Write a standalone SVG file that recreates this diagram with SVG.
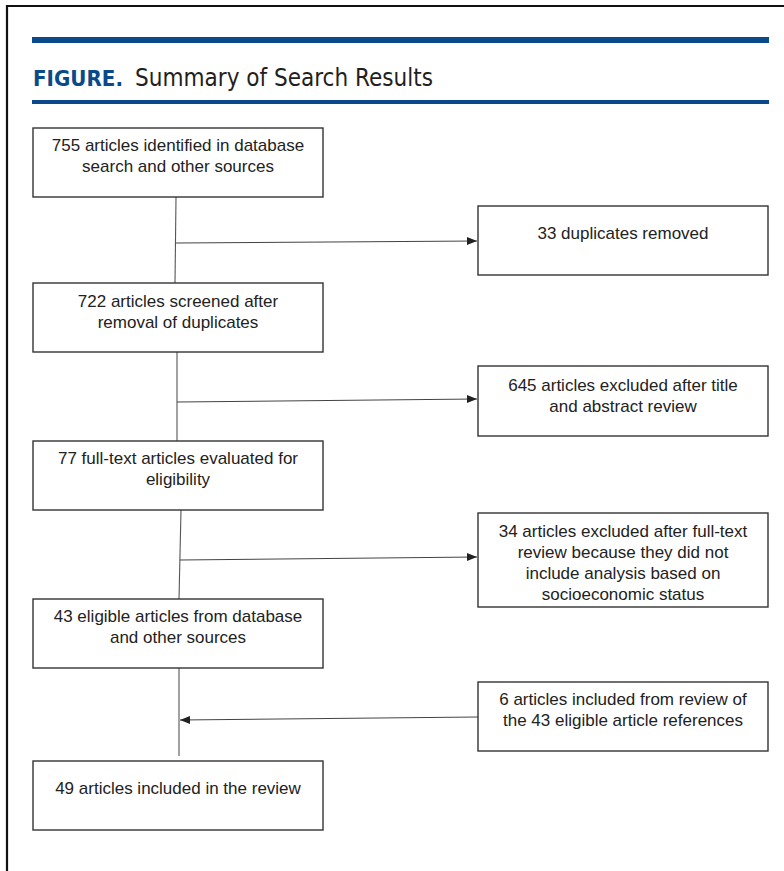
<svg xmlns="http://www.w3.org/2000/svg" width="784" height="871" viewBox="0 0 784 871">
<defs>
<style>
.box{fill:#fff;stroke:#333;stroke-width:1.4}
.t{font-family:"Liberation Sans",Arial,sans-serif;font-size:17px;fill:#222;text-anchor:middle}
.c{stroke:#555;stroke-width:1.1;fill:none}
.a{stroke:#444;stroke-width:1.1;fill:none;marker-end:url(#arr)}
.bar{fill:#0a4a8a}
</style>
<marker id="arr" markerUnits="userSpaceOnUse" markerWidth="11" markerHeight="9" refX="10" refY="4" orient="auto">
<path d="M0,0 L10,4 L0,8 z" fill="#222"/>
</marker>
</defs>
<rect width="784" height="871" fill="#fff"/>
<path d="M7,871 V6 H784" fill="none" stroke="#111" stroke-width="2.2"/>
<rect class="bar" x="32" y="37" width="737" height="6"/>
<text x="33" y="86" font-family="'DejaVu Sans Condensed','Liberation Sans',sans-serif" font-weight="bold" font-size="22" fill="#0a4a8a" textLength="90" lengthAdjust="spacingAndGlyphs">FIGURE.</text>
<text x="135" y="86" font-family="'DejaVu Sans Condensed','Liberation Sans',sans-serif" font-size="24" fill="#231f20" textLength="298" lengthAdjust="spacingAndGlyphs">Summary of Search Results</text>
<rect class="bar" x="32" y="100" width="737" height="4"/>

<g id="connectors">
<line class="c" x1="176" y1="197" x2="175" y2="283"/>
<line class="a" x1="176" y1="243" x2="477" y2="241"/>
<line class="c" x1="177" y1="352" x2="177" y2="441"/>
<line class="a" x1="177" y1="402" x2="477" y2="399"/>
<line class="c" x1="181" y1="510" x2="179" y2="599"/>
<line class="a" x1="180" y1="560" x2="477" y2="557"/>
<line class="c" x1="179" y1="668" x2="179" y2="756"/>
<line class="a" x1="478" y1="717" x2="180" y2="720"/>
</g>

<g id="n1">
<rect class="box" x="33" y="128" width="290" height="69"/>
<text class="t" x="178" y="151">755 articles identified in database</text>
<text class="t" x="178" y="172">search and other sources</text>
</g>
<g id="n2">
<rect class="box" x="33" y="283" width="290" height="69"/>
<text class="t" x="178" y="307">722 articles screened after</text>
<text class="t" x="178" y="328">removal of duplicates</text>
</g>
<g id="n3">
<rect class="box" x="33" y="441" width="290" height="69"/>
<text class="t" x="178" y="464">77 full-text articles evaluated for</text>
<text class="t" x="178" y="485">eligibility</text>
</g>
<g id="n4">
<rect class="box" x="33" y="599" width="290" height="69"/>
<text class="t" x="178" y="622">43 eligible articles from database</text>
<text class="t" x="178" y="643">and other sources</text>
</g>
<g id="n5">
<rect class="box" x="33" y="761" width="290" height="69"/>
<text class="t" x="178" y="794">49 articles included in the review</text>
</g>
<g id="r1">
<rect class="box" x="478" y="206" width="290" height="69"/>
<text class="t" x="623" y="239">33 duplicates removed</text>
</g>
<g id="r2">
<rect class="box" x="478" y="366" width="290" height="70"/>
<text class="t" x="623" y="391">645 articles excluded after title</text>
<text class="t" x="623" y="412">and abstract review</text>
</g>
<g id="r3">
<rect class="box" x="478" y="513" width="290" height="94"/>
<text class="t" x="623" y="537">34 articles excluded after full-text</text>
<text class="t" x="623" y="558">review because they did not</text>
<text class="t" x="623" y="579">include analysis based on</text>
<text class="t" x="623" y="600">socioeconomic status</text>
</g>
<g id="r4">
<rect class="box" x="478" y="682" width="290" height="69"/>
<text class="t" x="623" y="705">6 articles included from review of</text>
<text class="t" x="623" y="726">the 43 eligible article references</text>
</g>
</svg>
